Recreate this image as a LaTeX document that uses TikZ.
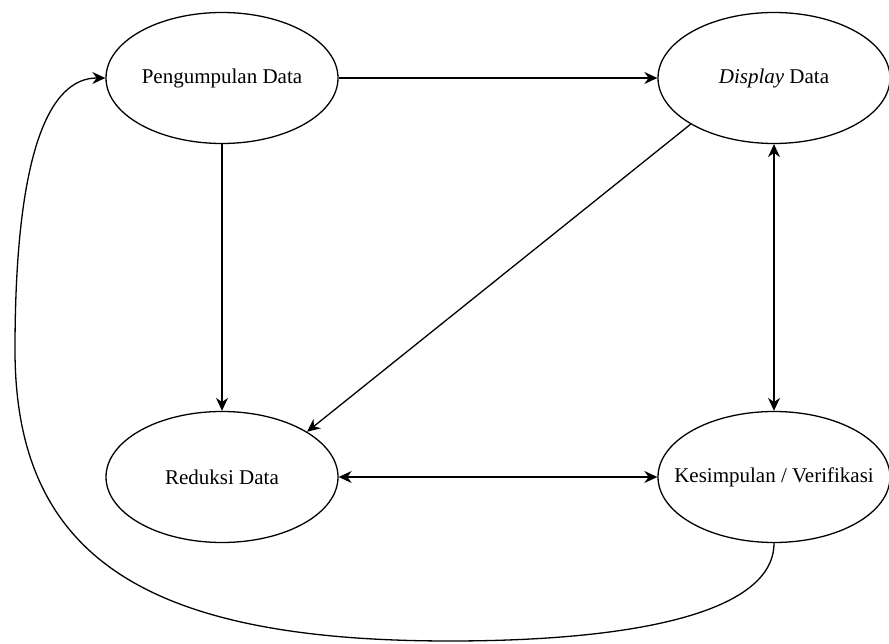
\documentclass[tikz,border=0pt]{standalone}
\usepackage{fontspec}
\setmainfont{Liberation Serif}
\usetikzlibrary{shapes.geometric,arrows.meta}
\newcommand{\stagetext}[1]{\makebox[0pt]{#1}}

\begin{document}
\begin{tikzpicture}[x=1pt,y=1pt,
    stage/.style={ellipse, draw, line width=1.3pt, minimum width=232pt, minimum height=131pt,
      inner sep=0pt, font=\fontsize{21}{25}\selectfont},
    flow/.style={line width=1.3pt, -{Stealth[length=13pt,width=12pt]}},
    both/.style={line width=1.3pt, {Stealth[length=13pt,width=12pt]}-{Stealth[length=13pt,width=12pt]}}]
    \useasboundingbox (0,0) rectangle (889,643);

    \node [stage] (pd) at (222,565) {\stagetext{Pengumpulan Data}};
    \node [stage] (dd) at (774,565) {\stagetext{\textit{Display} Data}};
    \node [stage] (rd) at (222,166) {\stagetext{Reduksi Data}};
    \node [stage] (kv) at (774,166) {\stagetext{Kesimpulan / Verifikasi}};

    \draw [flow] (pd.east) -- (dd.west);
    \draw [flow] (pd.south) -- (rd.north);
    \draw [flow] (dd.209) -- (rd.28);
    \draw [both] (dd.south) -- (kv.north);
    \draw [both] (rd.east) -- (kv.west);

    \draw [flow] (kv.south) .. controls +(0,-68) and (640,2) .. (450,2)
      .. controls (150,2) and (15,83) .. (15,293)
      .. controls (15,493) and (50,565) .. (pd.west);
  \end{tikzpicture}
\end{document}
